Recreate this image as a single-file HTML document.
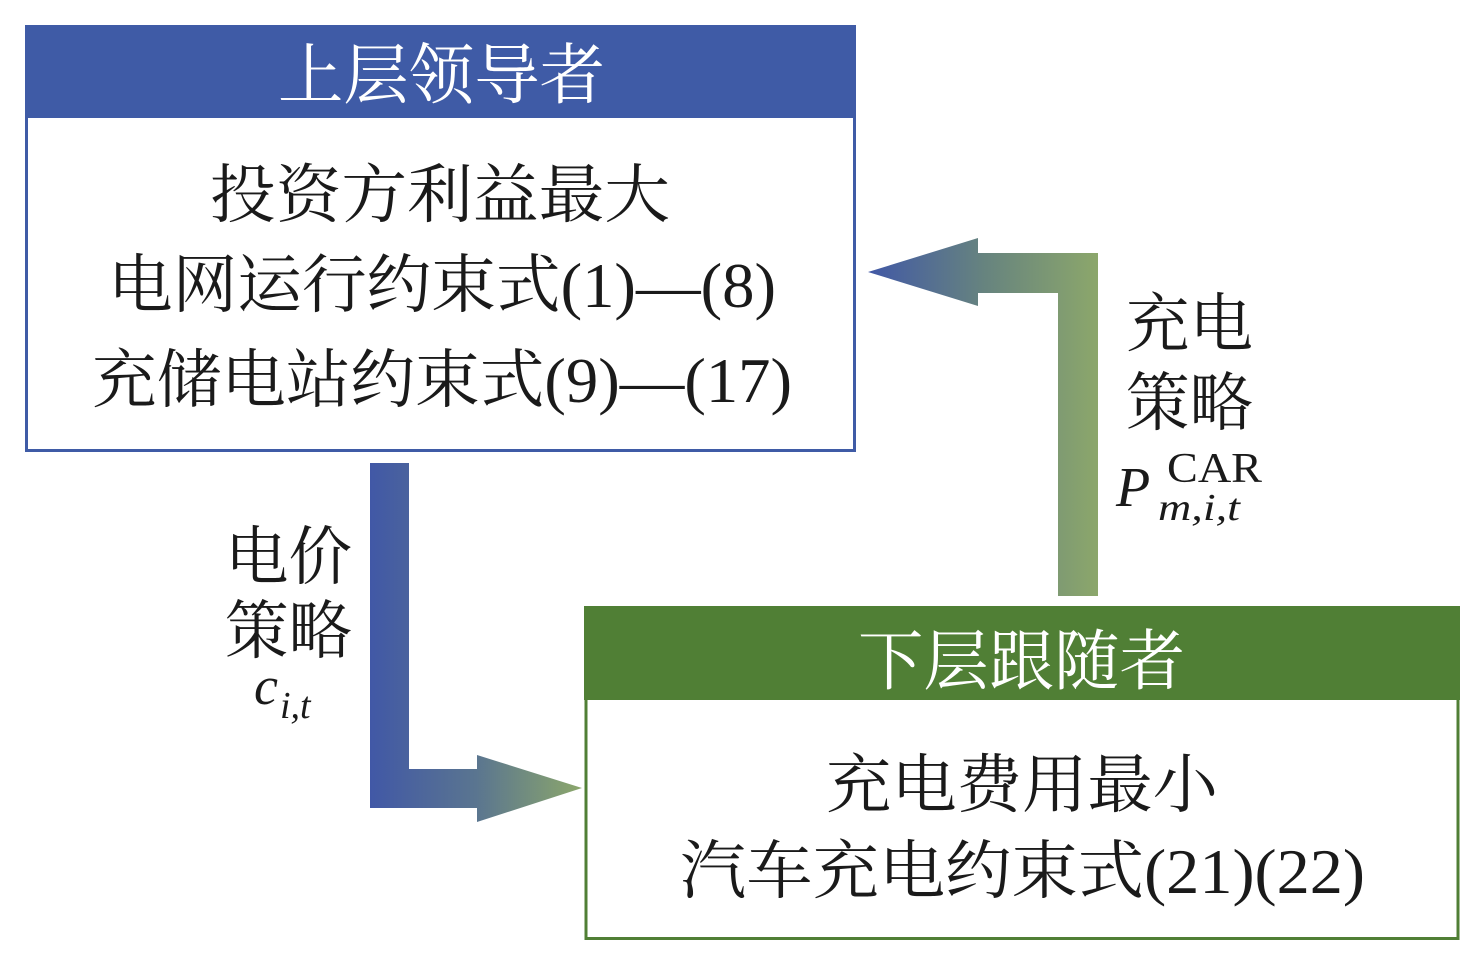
<!DOCTYPE html>
<html><head><meta charset="utf-8"><style>
html,body{margin:0;padding:0;background:#fff;}
svg text{font-family:"Liberation Serif","Noto Serif CJK SC",serif;}
</style></head><body>
<svg width="1479" height="955" viewBox="0 0 1479 955" xmlns="http://www.w3.org/2000/svg">
<defs>
<linearGradient id="g1" x1="370" y1="0" x2="582" y2="0" gradientUnits="userSpaceOnUse">
<stop offset="0" stop-color="#4158a6"/><stop offset="0.5" stop-color="#5a7590"/><stop offset="1" stop-color="#8ca76b"/></linearGradient>
<linearGradient id="g2" x1="868" y1="0" x2="1098" y2="0" gradientUnits="userSpaceOnUse">
<stop offset="0" stop-color="#4158a6"/><stop offset="0.5" stop-color="#66837f"/><stop offset="1" stop-color="#8ca76b"/></linearGradient>
</defs>
<rect x="26.5" y="26.5" width="828" height="424" fill="#fff" stroke="#3f5ba6" stroke-width="3"/>
<rect x="25" y="25" width="831" height="93" fill="#3f5ba6"/>
<text x="278" y="98" font-size="66" fill="#fff" textLength="327" lengthAdjust="spacingAndGlyphs">上层领导者</text>
<text x="210" y="217" font-size="64" fill="#1a1a1a" textLength="460" lengthAdjust="spacingAndGlyphs">投资方利益最大</text>
<text x="108" y="307" font-size="64" fill="#1a1a1a" textLength="668" lengthAdjust="spacingAndGlyphs">电网运行约束式(1)—(8)</text>
<text x="92" y="402" font-size="64" fill="#1a1a1a" textLength="700" lengthAdjust="spacingAndGlyphs">充储电站约束式(9)—(17)</text>
<rect x="586" y="607.5" width="872" height="331" fill="#fff" stroke="#507f35" stroke-width="3"/>
<rect x="584" y="606" width="876" height="94" fill="#507f35"/>
<text x="858" y="684" font-size="66" fill="#fff" textLength="327" lengthAdjust="spacingAndGlyphs">下层跟随者</text>
<text x="826" y="807" font-size="64" fill="#1a1a1a" textLength="392" lengthAdjust="spacingAndGlyphs">充电费用最小</text>
<text x="680" y="893" font-size="64" fill="#1a1a1a" textLength="685" lengthAdjust="spacingAndGlyphs">汽车充电约束式(21)(22)</text>
<path d="M370,463 H409 V769 H477 V755 L582,788 L477,822 V808 H370 Z" fill="url(#g1)"/>
<path d="M1098,596 H1058 V293 H978 V306 L868,272 L978,238 V253 H1098 Z" fill="url(#g2)"/>
<text x="225" y="579" font-size="64" fill="#1a1a1a" textLength="127" lengthAdjust="spacingAndGlyphs">电价</text>
<text x="225" y="653" font-size="64" fill="#1a1a1a" textLength="127" lengthAdjust="spacingAndGlyphs">策略</text>
<text x="254" y="704" font-size="54" font-style="italic" fill="#1a1a1a">c</text>
<text x="280" y="718" font-size="38" font-style="italic" fill="#1a1a1a">i,t</text>
<text x="1126" y="346" font-size="64" fill="#1a1a1a" textLength="127" lengthAdjust="spacingAndGlyphs">充电</text>
<text x="1126" y="425" font-size="64" fill="#1a1a1a" textLength="127" lengthAdjust="spacingAndGlyphs">策略</text>
<text x="1116" y="506" font-size="56" font-style="italic" fill="#1a1a1a">P</text>
<text x="1167" y="482" font-size="42" fill="#1a1a1a" textLength="95" lengthAdjust="spacingAndGlyphs">CAR</text>
<text x="1158" y="520" font-size="38" font-style="italic" fill="#1a1a1a" textLength="82" lengthAdjust="spacingAndGlyphs">m,i,t</text>
</svg>
</body></html>
